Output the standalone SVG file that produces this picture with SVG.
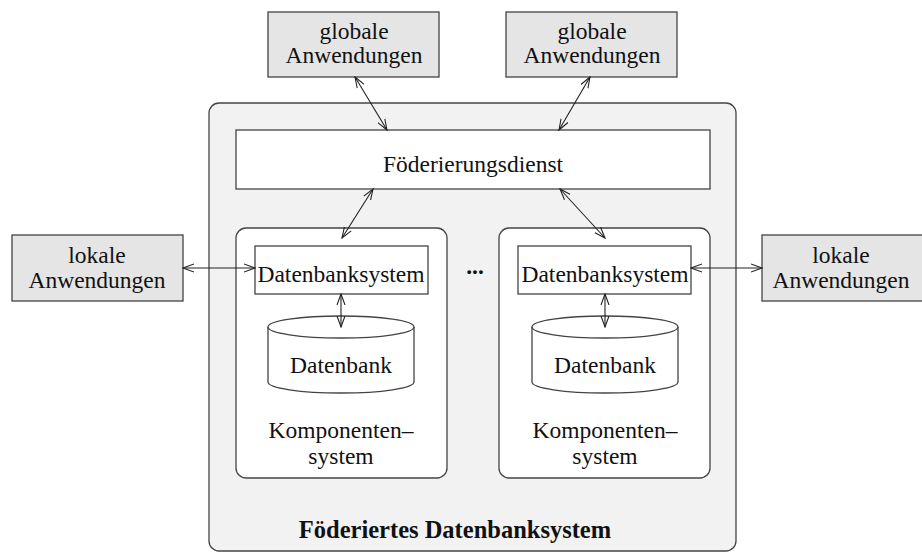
<svg xmlns="http://www.w3.org/2000/svg" width="922" height="553" viewBox="0 0 922 553">
<style>
text{font-family:"Liberation Serif","Times New Roman",serif;font-size:23.5px;fill:#111;text-anchor:middle}
.app{fill:#e5e5e5;stroke:#444;stroke-width:1.3}
.wb{fill:#fff;stroke:#444;stroke-width:1.3}
.outer{fill:#f2f2f2;stroke:#444;stroke-width:1.3}
.c{stroke:#222;stroke-width:1.1;fill:none;marker-start:url(#a);marker-end:url(#a)}
</style>
<defs>
<marker id="a" viewBox="0 0 12 10" refX="11" refY="5" markerWidth="12" markerHeight="10" markerUnits="userSpaceOnUse" orient="auto-start-reverse">
<path d="M0,1 L11,5 L0,9" fill="none" stroke="#222" stroke-width="1.1"/>
</marker>
</defs>
<g id="foederiertes-dbs">
<rect class="outer" x="209" y="103" width="527" height="448" rx="10"/>
<text x="455" y="538" font-weight="bold" style="font-size:24.5px">Föderiertes Datenbanksystem</text>
</g>
<g id="global1">
<rect class="app" x="268" y="12" width="171" height="65"/>
<text x="354" y="39">globale</text><text x="354" y="63">Anwendungen</text>
</g>
<g id="global2">
<rect class="app" x="506" y="12" width="171" height="65"/>
<text x="592" y="39">globale</text><text x="592" y="63">Anwendungen</text>
</g>
<g id="foederierungsdienst">
<rect class="wb" x="236" y="130" width="474" height="59"/>
<text x="473" y="172">Föderierungsdienst</text>
</g>
<g id="komponente1">
<rect class="wb" x="236" y="228" width="211" height="250" rx="10"/>
<text x="341" y="438">Komponenten–</text><text x="341" y="464">system</text>
</g>
<g id="komponente2">
<rect class="wb" x="499" y="228" width="211" height="250" rx="10"/>
<text x="605" y="438">Komponenten–</text><text x="605" y="464">system</text>
</g>
<g id="dbs1">
<rect class="wb" x="255" y="246" width="173" height="48"/>
<text x="341" y="282">Datenbanksystem</text>
</g>
<g id="dbs2">
<rect class="wb" x="518" y="246" width="173" height="48"/>
<text x="605" y="282">Datenbanksystem</text>
</g>
<g id="db1">
<path class="wb" d="M268,327 A73,11 0 0 1 414,327 L414,382 A73,11 0 0 1 268,382 Z"/>
<path d="M268,327 A73,11 0 0 0 414,327" fill="none" stroke="#444" stroke-width="1.3"/>
<text x="341" y="373">Datenbank</text>
</g>
<g id="db2">
<path class="wb" d="M532,327 A73,11 0 0 1 678,327 L678,382 A73,11 0 0 1 532,382 Z"/>
<path d="M532,327 A73,11 0 0 0 678,327" fill="none" stroke="#444" stroke-width="1.3"/>
<text x="605" y="373">Datenbank</text>
</g>
<g id="lokal1">
<rect class="app" x="12" y="235" width="171" height="66"/>
<text x="97" y="263">lokale</text><text x="97" y="288">Anwendungen</text>
</g>
<g id="lokal2">
<rect class="app" x="762" y="235" width="171" height="66"/>
<text x="841" y="263">lokale</text><text x="841" y="288">Anwendungen</text>
</g>
<g id="dots"><text x="475" y="274" font-weight="bold">...</text></g>
<g id="connectors">
<line class="c" x1="355" y1="77" x2="387" y2="130"/>
<line class="c" x1="590" y1="77" x2="559" y2="130"/>
<line class="c" x1="373" y1="189" x2="342" y2="238"/>
<line class="c" x1="560" y1="189" x2="605" y2="238"/>
<line class="c" x1="183" y1="268" x2="255" y2="268"/>
<line class="c" x1="691" y1="268" x2="762" y2="268"/>
<line class="c" x1="341" y1="294" x2="341" y2="327"/>
<line class="c" x1="605" y1="294" x2="605" y2="327"/>
</g>
</svg>
